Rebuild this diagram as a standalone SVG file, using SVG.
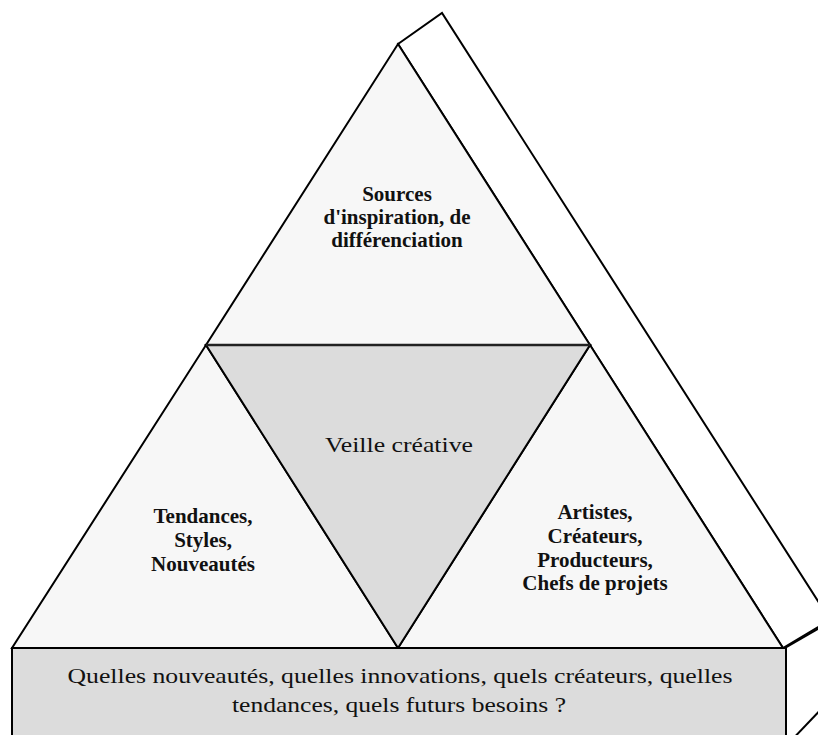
<svg xmlns="http://www.w3.org/2000/svg" width="818" height="735" viewBox="0 0 818 735">
<style>
.edge{stroke:#000;stroke-width:2;stroke-linejoin:miter;fill:none}
.light{fill:#f7f7f7;stroke:#000;stroke-width:2}
.grey{fill:#dcdcdc;stroke:#000;stroke-width:2}
.b{font-family:"Liberation Serif","Times New Roman",serif;font-weight:bold;font-size:21px;fill:#111;text-anchor:middle}
.n{font-family:"Liberation Serif","Times New Roman",serif;font-size:22px;fill:#111;text-anchor:middle}
</style>
<rect width="818" height="735" fill="#fff"/>
<g id="side-face">
<polygon points="398,44 442,13 830,620 783,648" fill="#fff" stroke="#000" stroke-width="2"/>
</g>
<g id="top-triangle">
<polygon class="light" points="398,44 590,345 206,345"/>
<text class="b" x="397" y="201">Sources</text>
<text class="b" x="397" y="224">d'inspiration, de</text>
<text class="b" x="397" y="247">différenciation</text>
</g>
<g id="left-triangle">
<polygon class="light" points="206,345 398,648 12,648"/>
<text class="b" x="203" y="523">Tendances,</text>
<text class="b" x="203" y="547">Styles,</text>
<text class="b" x="203" y="571">Nouveautés</text>
</g>
<g id="right-triangle">
<polygon class="light" points="590,345 783,648 398,648"/>
<text class="b" x="595" y="519">Artistes,</text>
<text class="b" x="595" y="543">Créateurs,</text>
<text class="b" x="595" y="567">Producteurs,</text>
<text class="b" x="595" y="590">Chefs de projets</text>
</g>
<g id="center-triangle">
<polygon class="grey" points="206,345 590,345 398,648"/>
<line x1="206" y1="345" x2="590" y2="345" stroke="#222" stroke-width="2.5"/>
<text class="n" x="399" y="452" textLength="148" lengthAdjust="spacingAndGlyphs">Veille créative</text>
</g>
<g id="connectors">
<line class="edge" x1="785" y1="648" x2="830" y2="622"/>
<line class="edge" x1="786" y1="746" x2="830" y2="700"/>
</g>
<g id="base-box">
<rect class="grey" x="12" y="648" width="774" height="110"/>
<text class="n" x="400" y="683" textLength="665" lengthAdjust="spacingAndGlyphs">Quelles nouveautés, quelles innovations, quels créateurs, quelles</text>
<text class="n" x="399" y="712" textLength="334" lengthAdjust="spacingAndGlyphs">tendances, quels futurs besoins ?</text>
</g>
</svg>
